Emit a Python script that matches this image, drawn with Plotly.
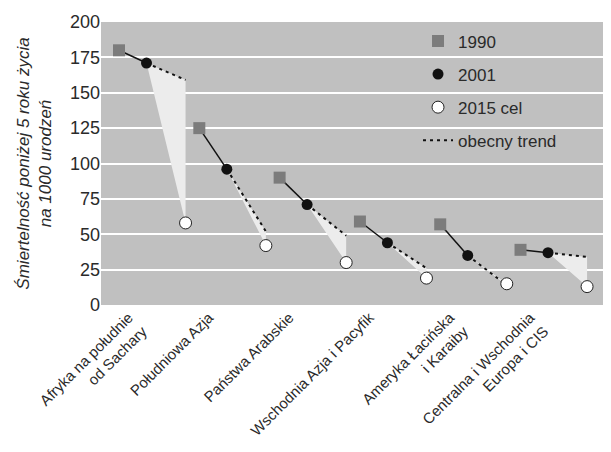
import plotly.graph_objects as go

categories = [
    "Afryka na południe<br>od Sachary",
    "Południowa Azja",
    "Państwa Arabskie",
    "Wschodnia Azja i Pacyfik",
    "Ameryka Łacińska<br>i Karaiby",
    "Centralna i Wschodnia<br>Europa i CIS",
]
v1990 = [180, 125, 90, 59, 57, 39]
v2001 = [171, 96, 71, 44, 35, 37]
trend2015 = [159, 52, 49, 26, 14, 34]
target2015 = [58, 42, 30, 19, 15, 13]
y_ticks = [0, 25, 50, 75, 100, 125, 150, 175, 200]

# layout of positions along the numeric x axis
GROUP = 2.92
OFF = {"1990": 0.0, "2001": 1.0, "2015": 2.42}
TICK_OFF = 0.35

n = len(categories)
x90 = [i * GROUP + OFF["1990"] for i in range(n)]
x01 = [i * GROUP + OFF["2001"] for i in range(n)]
x15 = [i * GROUP + OFF["2015"] for i in range(n)]

FONT = "Liberation Sans, Arial, sans-serif"
TXT = "#2a2a2a"

# fill triangles
fx, fy = [], []
for i in range(n):
    fx += [x01[i], x15[i], x15[i], x01[i], None]
    fy += [v2001[i], trend2015[i], target2015[i], v2001[i], None]

# solid 1990-2001 lines
sx, sy = [], []
for i in range(n):
    sx += [x90[i], x01[i], None]
    sy += [v1990[i], v2001[i], None]

# dotted trend lines
tx, ty = [], []
for i in range(n):
    tx += [x01[i], x15[i], None]
    ty += [v2001[i], trend2015[i], None]

fig = go.Figure()
fig.add_trace(go.Scatter(x=fx, y=fy, mode="lines", fill="toself",
                         fillcolor="#ececec", line=dict(width=0, color="#ececec"),
                         showlegend=False, hoverinfo="skip"))
fig.add_trace(go.Scatter(x=sx, y=sy, mode="lines",
                         line=dict(color="#111111", width=1.5),
                         showlegend=False, hoverinfo="skip"))
fig.add_trace(go.Scatter(x=tx, y=ty, mode="lines", name="obecny trend",
                         line=dict(color="#111111", width=2, dash="3px,4px"),
                         legendgroup="d", legendrank=4))
fig.add_trace(go.Scatter(x=x90, y=v1990, mode="markers", name="1990",
                         marker=dict(symbol="square", size=12, color="#7c7c7c"),
                         legendgroup="a", legendrank=1))
fig.add_trace(go.Scatter(x=x01, y=v2001, mode="markers", name="2001",
                         marker=dict(symbol="circle", size=11, color="#111111"),
                         legendgroup="b", legendrank=2))
fig.add_trace(go.Scatter(x=x15, y=target2015, mode="markers", name="2015 cel",
                         marker=dict(symbol="circle", size=12, color="white",
                                     line=dict(color="#222222", width=1)),
                         legendgroup="c", legendrank=3))

fig.update_layout(
    width=603, height=444,
    margin=dict(l=93, r=0, t=14, b=147, autoexpand=False),
    paper_bgcolor="white",
    plot_bgcolor="#c0c0c0",
    font=dict(family=FONT, size=17, color=TXT),
    legend=dict(x=0.6216, y=0.995, xanchor="left", yanchor="top",
                bgcolor="rgba(0,0,0,0)", tracegroupgap=8,
                font=dict(size=17, color=TXT)),
    xaxis=dict(range=[-0.655, 17.89], showgrid=False, zeroline=False,
               tickvals=[x + TICK_OFF for x in x90], ticktext=categories,
               tickangle=-45, tickfont=dict(size=15, color=TXT),
               ticks="", showline=False, automargin=False),
    yaxis=dict(range=[0, 200], tickvals=y_ticks, showgrid=True,
               gridcolor="white", gridwidth=2, zeroline=False,
               ticks="", tickfont=dict(size=18, color=TXT), automargin=False,
               title=dict(text="<i>Śmiertelność poniżej 5 roku życia<br>na 1000 urodzeń</i>",
                          font=dict(size=17, color=TXT), standoff=13)),
)

fig.write_html("out.html")
